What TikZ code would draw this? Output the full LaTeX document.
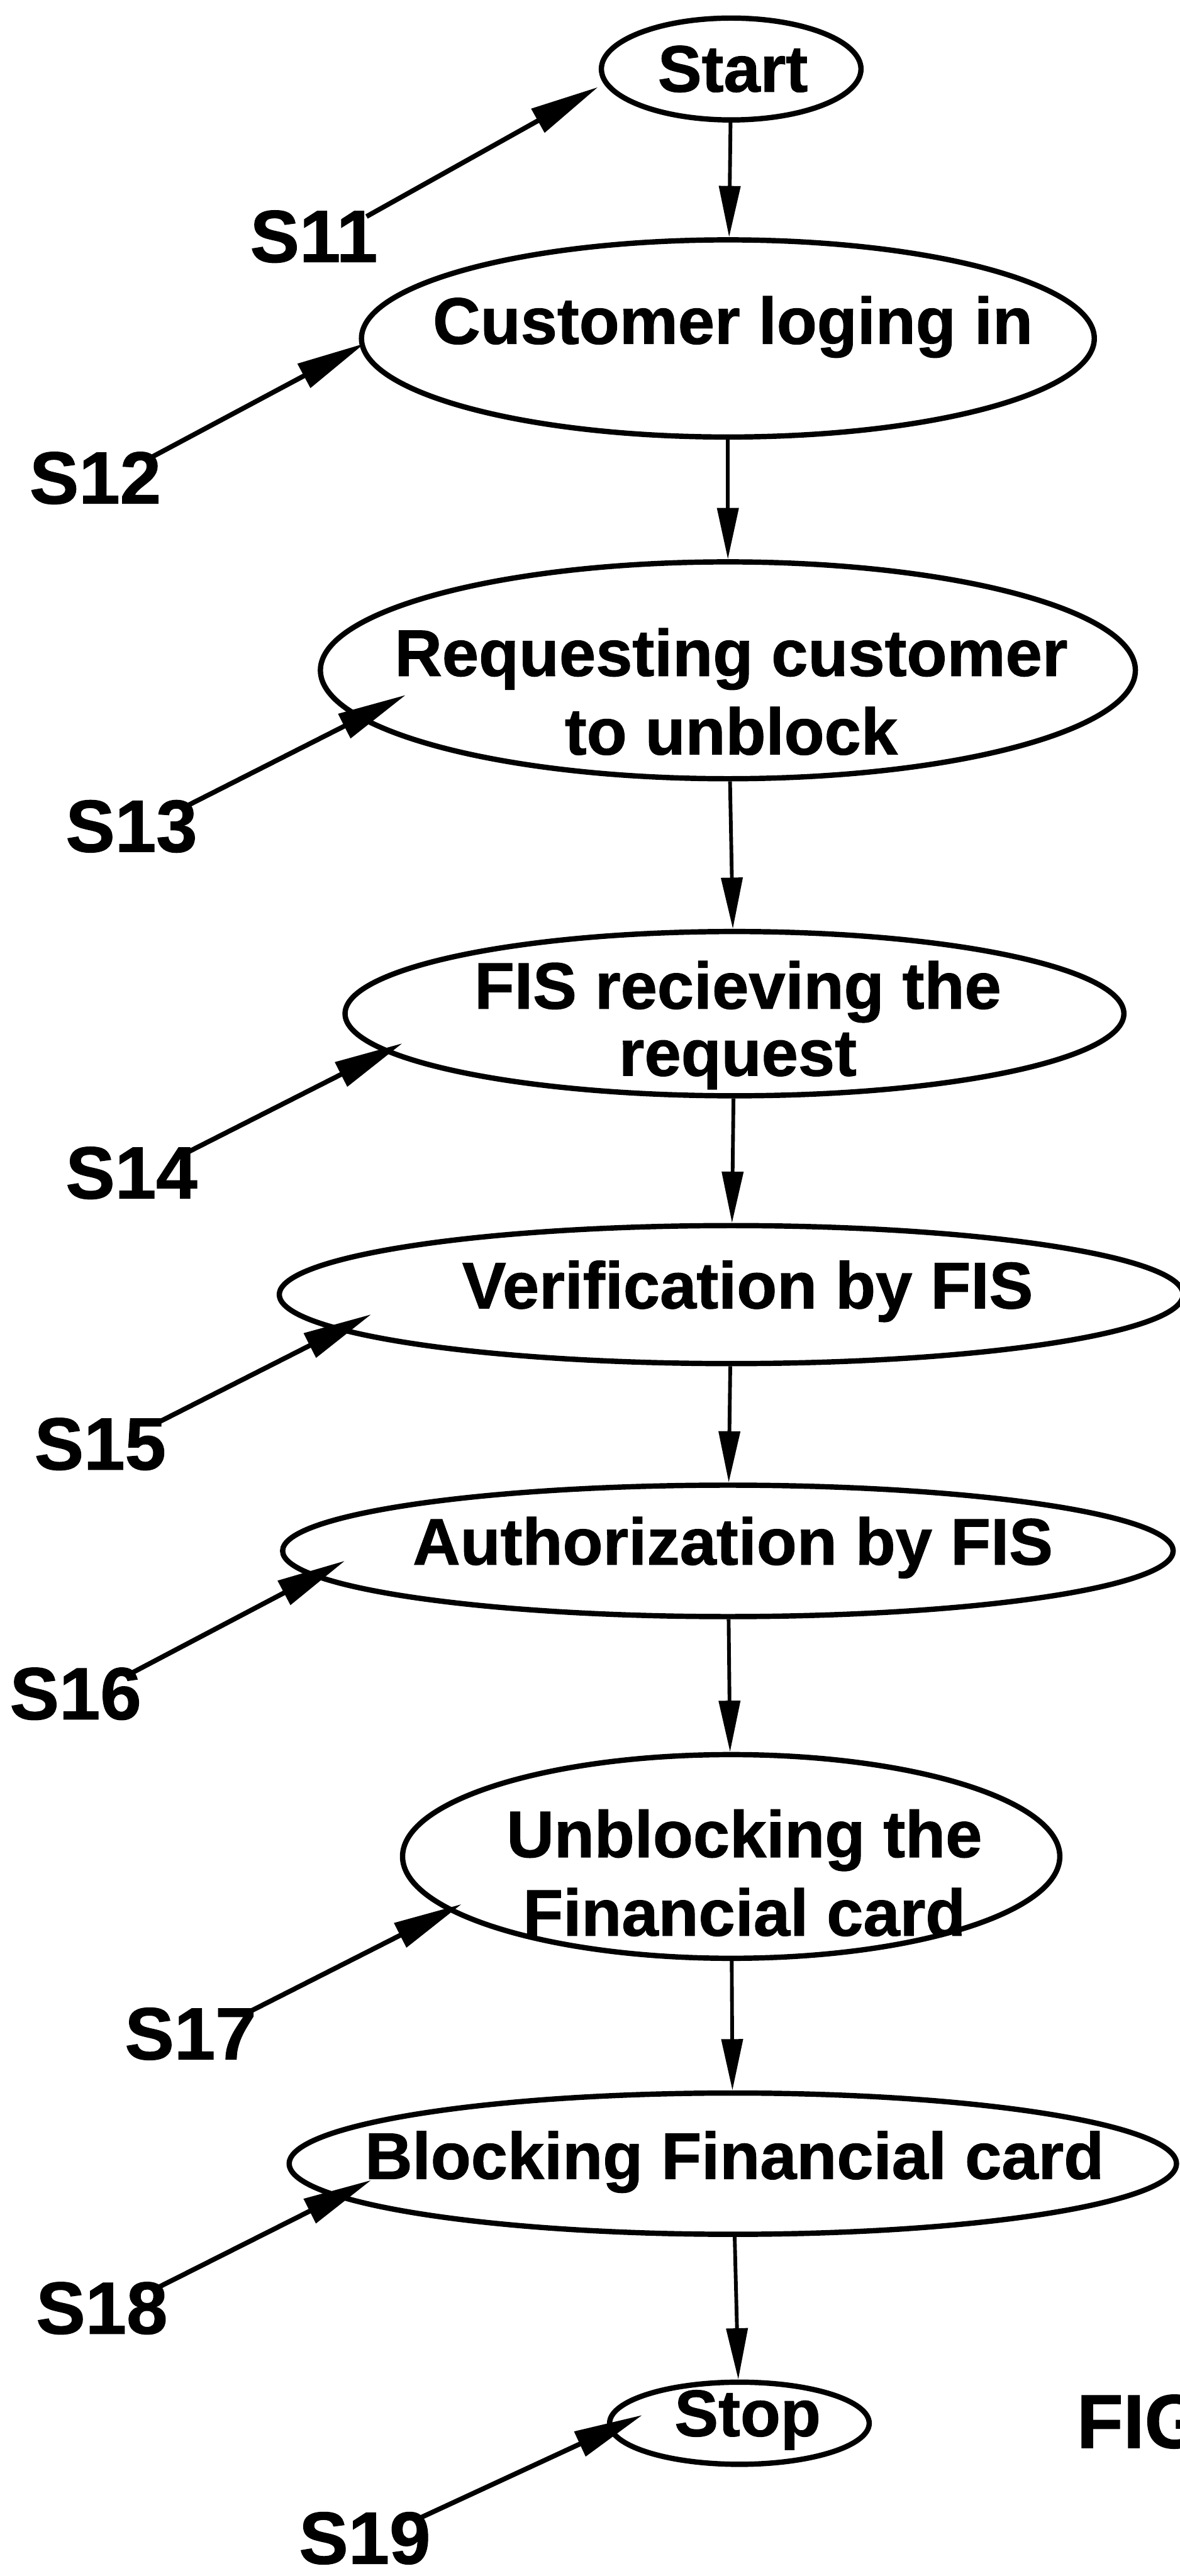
\documentclass[tikz,border=0pt]{standalone}
\usepackage{fontspec}
\setmainfont{Liberation Sans}[BoldFeatures={FakeBold=1}]
\usepackage{tikz}
\usetikzlibrary{arrows.meta,shapes.geometric}
\tikzset{
  stepshape/.style={draw=black, ellipse, line width=2.3pt, inner sep=0pt},
  steptext/.style={font=\fontsize{28.5}{34}\selectfont\bfseries, align=center, inner sep=0pt},
  steptag/.style={font=\fontsize{32}{36}\selectfont\bfseries, inner sep=0pt},
  figtag/.style={font=\fontsize{33}{36}\selectfont\bfseries, inner sep=0pt},
  flow/.style={-{Triangle[length=0.78cm,width=0.32cm]}, line width=1.6pt},
  pointer/.style={-{Triangle[length=1.05cm,width=0.4cm]}, line width=2.1pt},
}
\newcommand{\flowstep}[8]{%
  \node[stepshape, minimum width={2*#4*0.025cm}, minimum height={2*#5*0.025cm}] (#1) at (#2,#3) {};
  \node[steptext] (#1-txt) at (#6,#7) {#8};}
\newcommand{\tagnode}[3]{\node[steptag] (#1) at (#2) {#3};}
\newcommand{\tagarrow}[2]{\draw[pointer] ([shift={(-7,4)}]#1.north east) -- (#2);}

\begin{document}
\begin{tikzpicture}[x=0.025cm, y=-0.025cm]
  \useasboundingbox (0,0) rectangle (718,1568);
  \flowstep{start}{445}{42}{79}{31}{446}{42}{Start}
  \flowstep{login}{443}{206}{223}{60}{446}{199}{Customer loging in}
  \flowstep{request}{443}{408}{248}{66}{445}{421}{Requesting customer\\to unblock}
  \flowstep{receive}{447}{617}{237}{50}{449}{624}{FIS recieving the\\[-5pt]request}
  \flowstep{verify}{445}{788}{275}{42}{455}{786}{Verification by FIS}
  \flowstep{authorize}{443}{944}{271}{40}{446}{942}{Authorization by FIS}
  \flowstep{unblock}{445}{1130}{200}{62}{453}{1140}{Unblocking the\\Financial card}
  \flowstep{block}{446}{1317}{270}{43}{447}{1316}{Blocking Financial card}
  \flowstep{stop}{450}{1475}{79}{25}{455}{1473}{Stop}
  \draw[flow] (start) -- (login);
  \draw[flow] (login) -- (request);
  \draw[flow] (request) -- (receive);
  \draw[flow] (receive) -- (verify);
  \draw[flow] (verify) -- (authorize);
  \draw[flow] (authorize) -- (unblock);
  \draw[flow] (unblock) -- (block);
  \draw[flow] (block) -- (stop);
  \tagnode{s11}{191,144}{S11}
  \tagnode{s12}{58,291}{S12}
  \tagnode{s13}{80,503}{S13}
  \tagnode{s14}{80,714}{S14}
  \tagnode{s15}{61,879}{S15}
  \tagnode{s16}{46,1031}{S16}
  \tagnode{s17}{116,1238}{S17}
  \tagnode{s18}{62,1405}{S18}
  \tagnode{s19}{222,1545}{S19}
  \coordinate (p11) at (364,53);
  \coordinate (p12) at (222,209);
  \coordinate (p13) at (247,423);
  \coordinate (p14) at (245,635);
  \coordinate (p15) at (226,800);
  \coordinate (p16) at (210,950);
  \coordinate (p17) at (281,1159);
  \coordinate (p18) at (226,1327);
  \coordinate (p19) at (391,1470);
  \tagarrow{s11}{p11}
  \tagarrow{s12}{p12}
  \tagarrow{s13}{p13}
  \tagarrow{s14}{p14}
  \tagarrow{s15}{p15}
  \tagarrow{s16}{p16}
  \tagarrow{s17}{p17}
  \tagarrow{s18}{p18}
  \tagarrow{s19}{p19}
  \node[figtag, anchor=base west] (fig) at (655,1490) {FIG};
\end{tikzpicture}
\end{document}
